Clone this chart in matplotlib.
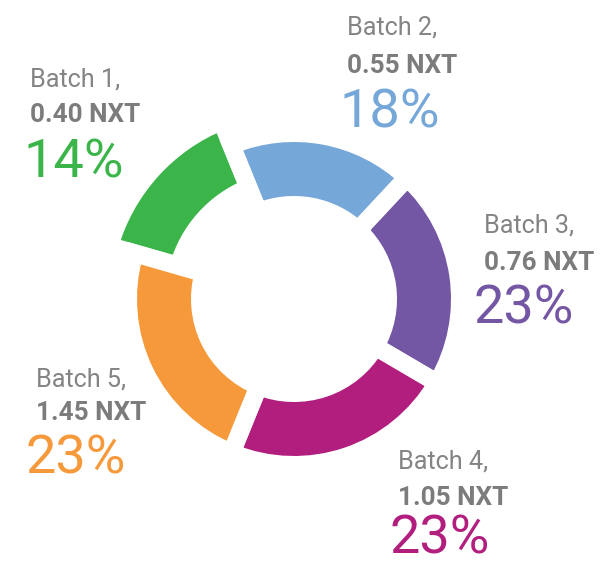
import matplotlib
matplotlib.use("Agg")
import matplotlib.pyplot as plt

# --- DATA ---
batches = ['Batch 1,', 'Batch 2,', 'Batch 3,', 'Batch 4,', 'Batch 5,']
prices = ['0.40 NXT', '0.55 NXT', '0.76 NXT', '1.05 NXT', '1.45 NXT']
pct_labels = ['14%', '18%', '23%', '23%', '23%']
# wedge sizes as drawn in the picture (degrees share)
shares = [14.4, 18.1, 21.5, 22.7, 23.3]
colors = ['#3BB54A', '#75A7D8', '#7356A4', '#B21E7E', '#F6993A']

# --- LAYOUT (pixel units, y measured from top) ---
W, H = 607, 564
CENTER = (294, H - 299)
GAP = 18
RADIUS = 166
RING = 72
BIG_RADIUS = 192          # batch 1 wedge is drawn larger

# label anchors: (x, baseline of name, baseline of price, baseline of pct, x of pct)
label_pos = [
    (30, 87, 122, 177, 23),
    (347, 35, 73, 127, 340),
    (484, 233, 270, 323, 474),
    (398, 468, 505, 553, 389),
    (36, 386, 420, 474, 26),
]

plt.rcParams['font.family'] = ['Roboto', 'DejaVu Sans']

fig = plt.figure(figsize=(W / 100, H / 100), dpi=100)
ax = fig.add_axes([0, 0, 1, 1])

lw_pt = GAP * 72 / 100
wedges, _ = ax.pie(shares, colors=colors, startangle=164, counterclock=False,
                   center=CENTER, radius=RADIUS,
                   wedgeprops=dict(width=RING, edgecolor='white', linewidth=lw_pt))
wedges[0].set_radius(BIG_RADIUS)
wedges[0].set_width(RING)

ax.set_xlim(0, W)
ax.set_ylim(0, H)
ax.set_aspect('equal')
ax.axis('off')

gray = '#848484'
for i in range(len(batches)):
    x, yn, yp, ypc, xpc = label_pos[i]
    ax.text(x, H - yn, batches[i], fontsize=18.2, color=gray, ha='left', va='baseline')
    ax.text(x, H - yp, prices[i], fontsize=18.8, color='#7c7c7c', fontweight='bold',
            ha='left', va='baseline')
    ax.text(xpc, H - ypc, pct_labels[i], fontsize=39, color=colors[i], fontweight='normal',
            ha='left', va='baseline')

fig.savefig('out.png', dpi=100)
